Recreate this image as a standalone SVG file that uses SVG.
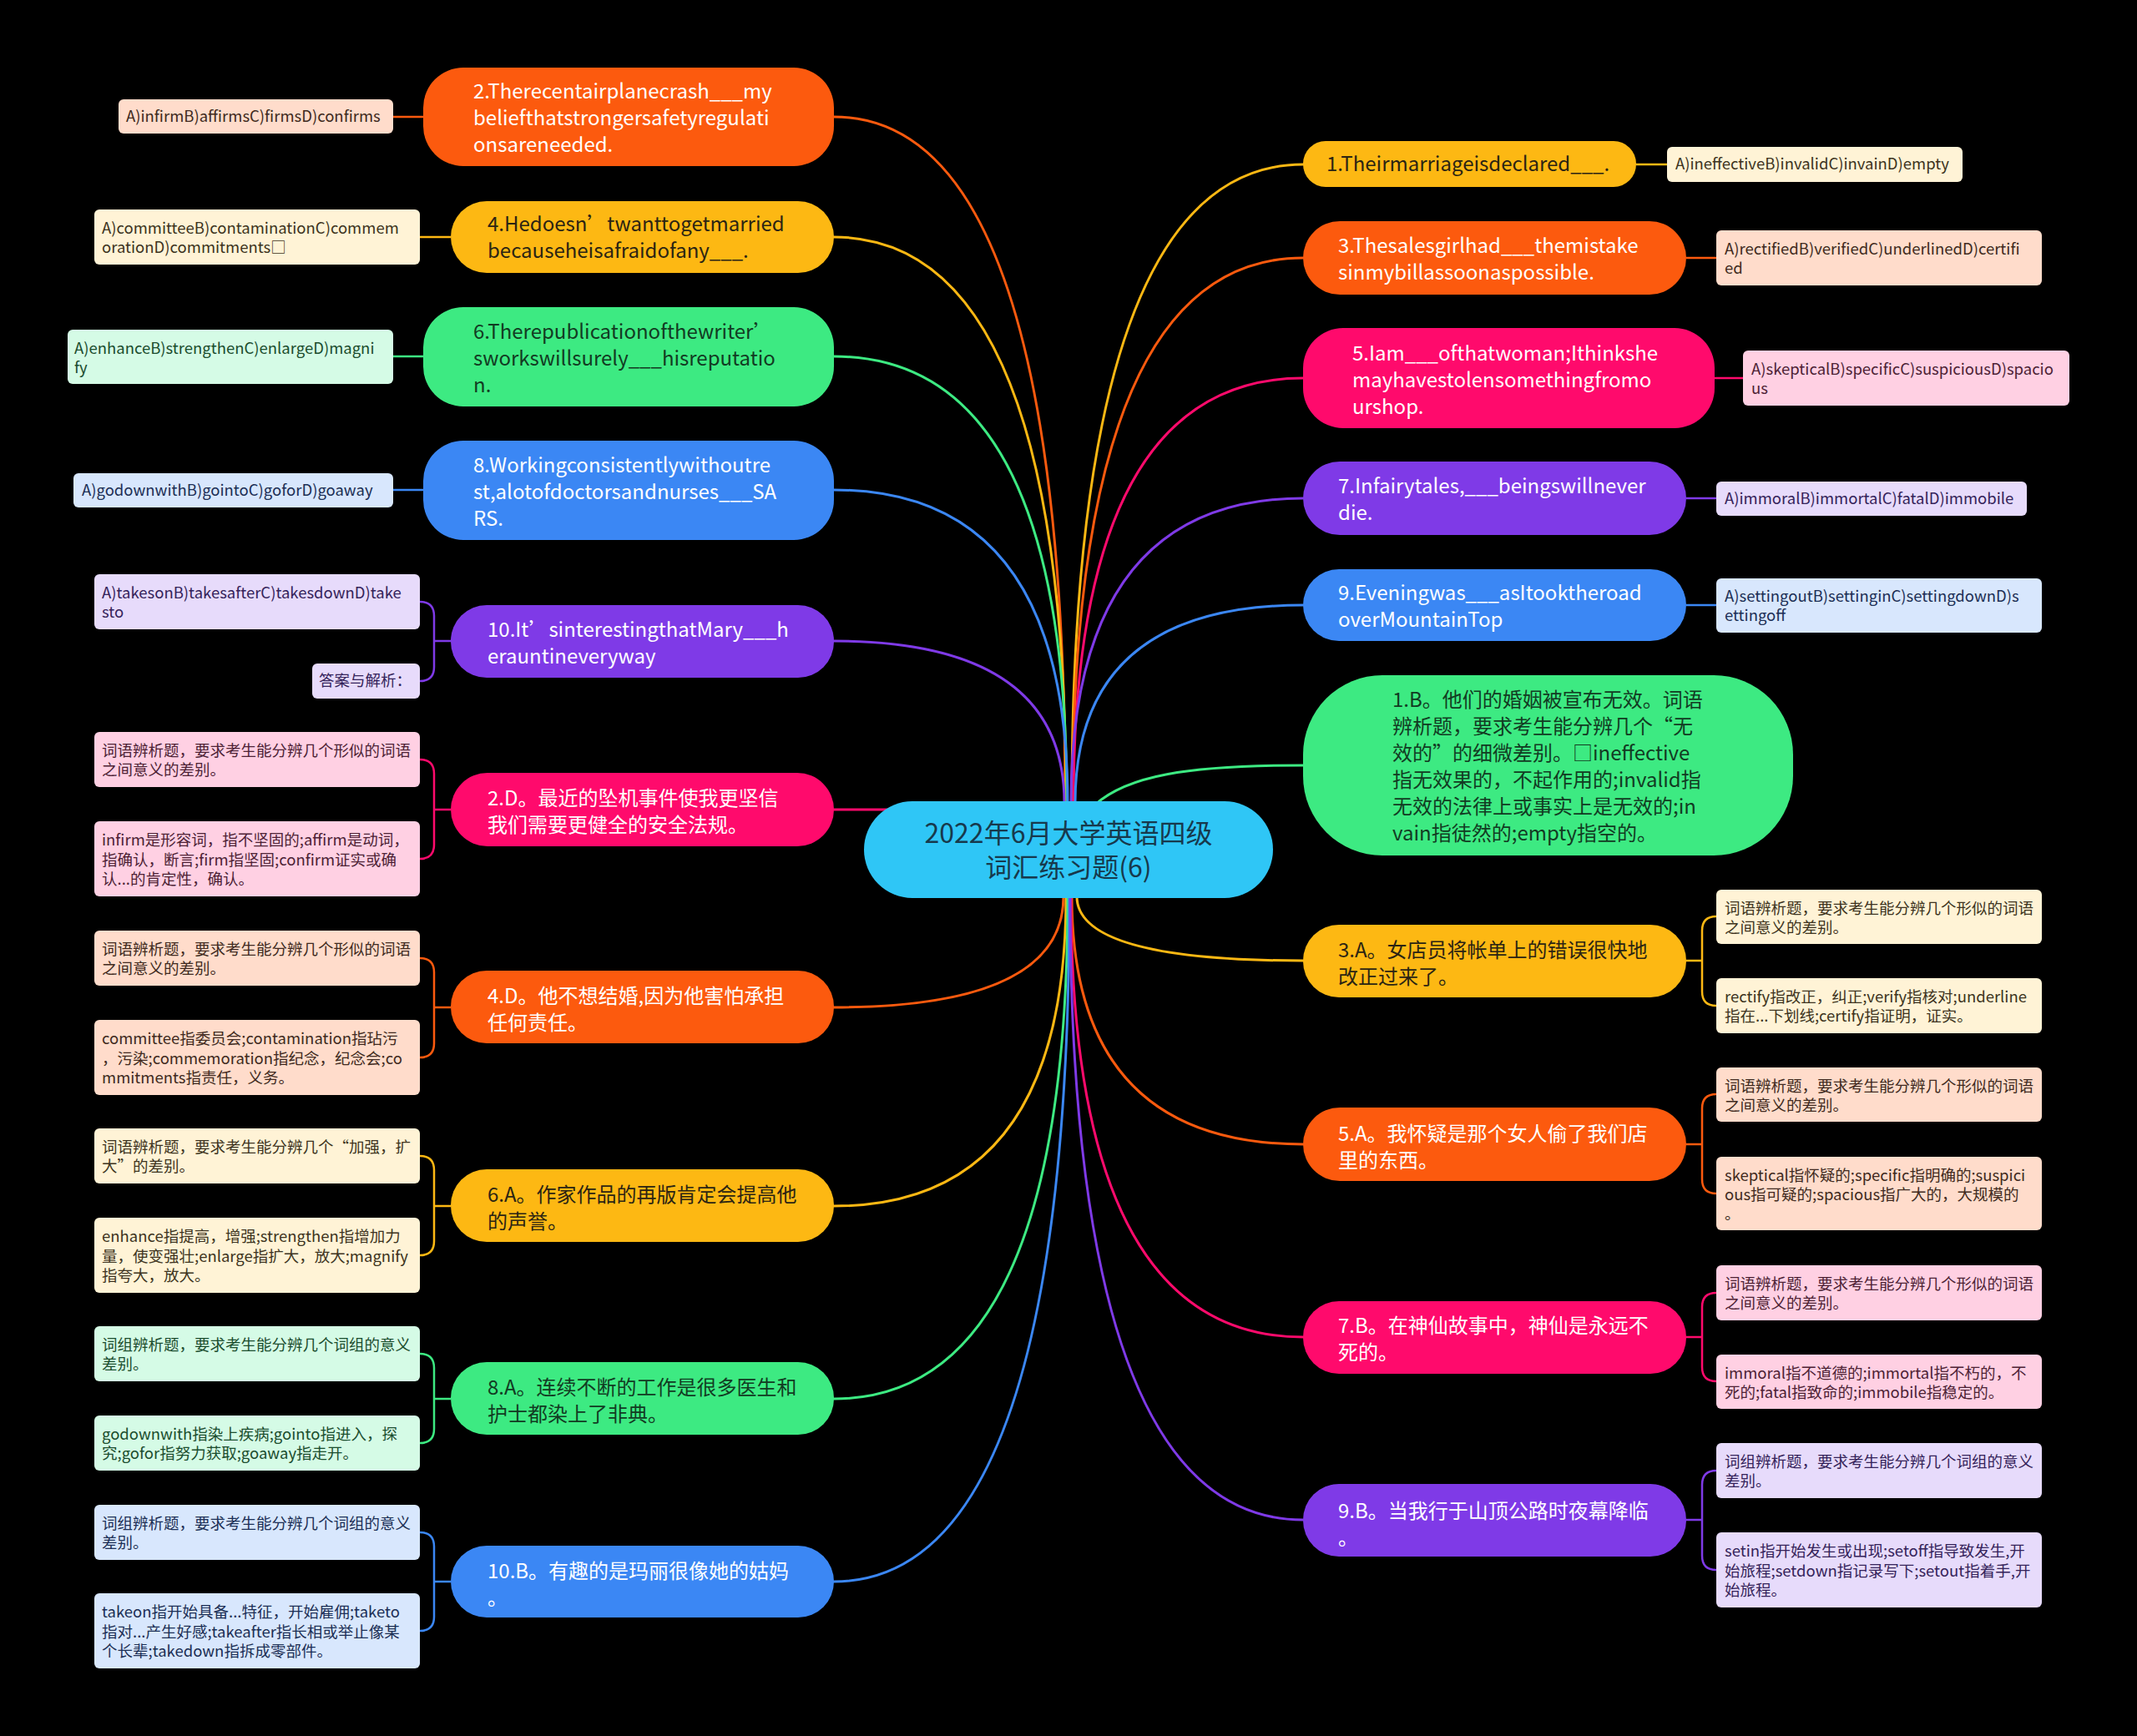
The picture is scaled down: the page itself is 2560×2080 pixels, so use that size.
<svg xmlns="http://www.w3.org/2000/svg" width="2560" height="2080" viewBox="0 0 2560 2080">
<style>
text{font-family:"Noto Sans CJK SC","Noto Sans",sans-serif;}
.m{font-size:24px;}
.l{font-size:18.5px;}
.c{font-size:32px;fill:#17394c;}
.w{fill:#ffffff;}
.dk-a{fill:#2b2413;}
.dk-g{fill:#123b22;}
.e{fill:none;stroke-width:3;stroke-linecap:round;}
.le{fill:none;stroke-width:2.5;}
.or{fill:#FC5A0E;} .am{fill:#FDB813;} .gr{fill:#3DEA82;} .bl{fill:#3B87F4;} .pu{fill:#7F3AE7;} .pk{fill:#FF0A6C;}
.lor{fill:#FFDCCB;} .lam{fill:#FFF3D6;} .lgr{fill:#D5FBE6;} .lbl{fill:#D8E7FD;} .lpu{fill:#E7DBFB;} .lpk{fill:#FFD0E3;}
.tor{fill:#402a20;} .tam{fill:#3d3320;} .tgr{fill:#1b4d2e;} .tbl{fill:#1c2f55;} .tpu{fill:#35235a;} .tpk{fill:#4d2235;}
.sor{stroke:#FC5A0E;} .sam{stroke:#FDB813;} .sgr{stroke:#3DEA82;} .sbl{stroke:#3B87F4;} .spu{stroke:#7F3AE7;} .spk{stroke:#FF0A6C;}
</style>
<rect x="0" y="0" width="2560" height="2080" fill="#000000"/>
<g id="connectors">
<path class="e sor" d="M999 140 Q1276 140 1276 962"/>
<path class="e sam" d="M999 284 Q1277 284 1277 962"/>
<path class="e sgr" d="M999 427 Q1278 427 1278 962"/>
<path class="e sbl" d="M999 587 Q1279 587 1279 962"/>
<path class="e spu" d="M999 768 Q1275 768 1275 962"/>
<path class="e spk" d="M999 970 L1070 970"/>
<path class="e sam" d="M1561 197 Q1284 197 1284 962"/>
<path class="e sor" d="M1561 309 Q1285 309 1285 962"/>
<path class="e spk" d="M1561 453 Q1286 453 1286 962"/>
<path class="e spu" d="M1561 597 Q1283 597 1283 962"/>
<path class="e sbl" d="M1561 725 Q1288 725 1288 962"/>
<path class="e sgr" d="M1561 917 C1420 917 1350 930 1312 964"/>
<path class="e sor" d="M999 1207 Q1274 1207 1274 1074"/>
<path class="e sam" d="M999 1445 Q1277 1445 1277 1074"/>
<path class="e sgr" d="M999 1676 Q1279 1676 1279 1074"/>
<path class="e sbl" d="M999 1895 Q1281 1895 1281 1074"/>
<path class="e sam" d="M1561 1151 Q1290 1151 1290 1074"/>
<path class="e sor" d="M1561 1371 Q1284 1371 1284 1074"/>
<path class="e spk" d="M1561 1602 Q1283 1602 1283 1074"/>
<path class="e spu" d="M1561 1821 Q1282 1821 1282 1074"/>
<path class="le sor" d="M471 140 L507 140"/>
<path class="le sam" d="M503 284 L540 284"/>
<path class="le sgr" d="M471 427 L507 427"/>
<path class="le sbl" d="M471 587 L507 587"/>
<path class="le spu" d="M540 768 L520 768 M503 721 Q520 721 520 738 L520 799 Q520 816 503 816"/>
<path class="le spk" d="M540 970 L520 970 M503 910 Q520 910 520 927 L520 1012 Q520 1029 503 1029"/>
<path class="le sor" d="M540 1207 L520 1207 M503 1148 Q520 1148 520 1165 L520 1250 Q520 1267 503 1267"/>
<path class="le sam" d="M540 1445 L520 1445 M503 1385 Q520 1385 520 1402 L520 1487 Q520 1504 503 1504"/>
<path class="le sgr" d="M540 1676 L520 1676 M503 1622 Q520 1622 520 1639 L520 1712 Q520 1729 503 1729"/>
<path class="le sbl" d="M540 1895 L520 1895 M503 1836 Q520 1836 520 1853 L520 1937 Q520 1954 503 1954"/>
<path class="le sam" d="M1960 197 L1997 197"/>
<path class="le sor" d="M2020 309 L2056 309"/>
<path class="le spk" d="M2054 453 L2088 453"/>
<path class="le spu" d="M2020 597 L2056 597"/>
<path class="le sbl" d="M2020 725 L2056 725"/>
<path class="le sam" d="M2020 1151 L2039 1151 M2056 1098 Q2039 1098 2039 1115 L2039 1188 Q2039 1205 2056 1205"/>
<path class="le sor" d="M2020 1371 L2039 1371 M2056 1311 Q2039 1311 2039 1328 L2039 1413 Q2039 1430 2056 1430"/>
<path class="le spk" d="M2020 1602 L2039 1602 M2056 1549 Q2039 1549 2039 1566 L2039 1638 Q2039 1655 2056 1655"/>
<path class="le spu" d="M2020 1821 L2039 1821 M2056 1762 Q2039 1762 2039 1779 L2039 1864 Q2039 1881 2056 1881"/>
</g>
<g id="center">
<rect x="1035" y="960" width="490" height="116" rx="58" fill="#2FC6F6"/>
<text class="c" x="1280" y="1010" text-anchor="middle">2022年6月大学英语四级</text>
<text class="c" x="1280" y="1051" text-anchor="middle">词汇练习题(6)</text>
</g>
<g id="q2"><rect class="or" x="507" y="81" width="492" height="118" rx="48"/>
<text class="m w" x="567" y="118">2.Therecentairplanecrash___my</text>
<text class="m w" x="567" y="150">beliefthatstrongersafetyregulati</text>
<text class="m w" x="567" y="182">onsareneeded.</text></g>
<g id="q4"><rect class="am" x="540" y="241" width="459" height="86" rx="43"/>
<text class="m dk-a" x="584" y="277">4.Hedoesn’twanttogetmarried</text>
<text class="m dk-a" x="584" y="309">becauseheisafraidofany___.</text></g>
<g id="q6"><rect class="gr" x="507" y="368" width="492" height="119" rx="48"/>
<text class="m dk-g" x="567" y="406">6.Therepublicationofthewriter’</text>
<text class="m dk-g" x="567" y="438">sworkswillsurely___hisreputatio</text>
<text class="m dk-g" x="567" y="470">n.</text></g>
<g id="q8"><rect class="bl" x="507" y="528" width="492" height="119" rx="48"/>
<text class="m w" x="567" y="566">8.Workingconsistentlywithoutre</text>
<text class="m w" x="567" y="598">st,alotofdoctorsandnurses___SA</text>
<text class="m w" x="567" y="630">RS.</text></g>
<g id="q10"><rect class="pu" x="540" y="725" width="459" height="87" rx="43"/>
<text class="m w" x="584" y="763">10.It’sinterestingthatMary___h</text>
<text class="m w" x="584" y="795">erauntineveryway</text></g>
<g id="a2"><rect class="pk" x="540" y="926" width="459" height="88" rx="44"/>
<text class="m w" x="584" y="965">2.D。最近的坠机事件使我更坚信</text>
<text class="m w" x="584" y="997">我们需要更健全的安全法规。</text></g>
<g id="a4"><rect class="or" x="540" y="1163" width="459" height="87" rx="43"/>
<text class="m w" x="584" y="1202">4.D。他不想结婚,因为他害怕承担</text>
<text class="m w" x="584" y="1234">任何责任。</text></g>
<g id="a6"><rect class="am" x="540" y="1401" width="459" height="87" rx="43"/>
<text class="m dk-a" x="584" y="1440">6.A。作家作品的再版肯定会提高他</text>
<text class="m dk-a" x="584" y="1472">的声誉。</text></g>
<g id="a8"><rect class="gr" x="540" y="1632" width="459" height="87" rx="43"/>
<text class="m dk-g" x="584" y="1671">8.A。连续不断的工作是很多医生和</text>
<text class="m dk-g" x="584" y="1703">护士都染上了非典。</text></g>
<g id="a10"><rect class="bl" x="540" y="1852" width="459" height="86" rx="43"/>
<text class="m w" x="584" y="1891">10.B。有趣的是玛丽很像她的姑妈</text>
<text class="m w" x="584" y="1923">。</text></g>
<g id="q1"><rect class="am" x="1561" y="169" width="399" height="55" rx="27"/>
<text class="m dk-a" x="1589" y="205">1.Theirmarriageisdeclared___.</text></g>
<g id="q3"><rect class="or" x="1561" y="265" width="459" height="88" rx="44"/>
<text class="m w" x="1603" y="303">3.Thesalesgirlhad___themistake</text>
<text class="m w" x="1603" y="335">sinmybillassoonaspossible.</text></g>
<g id="q5"><rect class="pk" x="1561" y="393" width="493" height="120" rx="48"/>
<text class="m w" x="1620" y="432">5.Iam___ofthatwoman;Ithinkshe</text>
<text class="m w" x="1620" y="464">mayhavestolensomethingfromo</text>
<text class="m w" x="1620" y="496">urshop.</text></g>
<g id="q7"><rect class="pu" x="1561" y="553" width="459" height="88" rx="44"/>
<text class="m w" x="1603" y="591">7.Infairytales,___beingswillnever</text>
<text class="m w" x="1603" y="623">die.</text></g>
<g id="q9"><rect class="bl" x="1561" y="682" width="459" height="86" rx="43"/>
<text class="m w" x="1603" y="719">9.Eveningwas___asItooktheroad</text>
<text class="m w" x="1603" y="751">overMountainTop</text></g>
<g id="a1"><rect class="gr" x="1561" y="809" width="587" height="216" rx="95"/>
<text class="m dk-g" x="1668" y="847">1.B。他们的婚姻被宣布无效。词语</text>
<text class="m dk-g" x="1668" y="879">辨析题，要求考生能分辨几个“无</text>
<text class="m dk-g" x="1668" y="911">效的”的细微差别。□ineffective</text>
<text class="m dk-g" x="1668" y="943">指无效果的，不起作用的;invalid指</text>
<text class="m dk-g" x="1668" y="975">无效的法律上或事实上是无效的;in</text>
<text class="m dk-g" x="1668" y="1007">vain指徒然的;empty指空的。</text></g>
<g id="a3"><rect class="am" x="1561" y="1108" width="459" height="87" rx="43"/>
<text class="m dk-a" x="1603" y="1147">3.A。女店员将帐单上的错误很快地</text>
<text class="m dk-a" x="1603" y="1179">改正过来了。</text></g>
<g id="a5"><rect class="or" x="1561" y="1327" width="459" height="88" rx="44"/>
<text class="m w" x="1603" y="1367">5.A。我怀疑是那个女人偷了我们店</text>
<text class="m w" x="1603" y="1399">里的东西。</text></g>
<g id="a7"><rect class="pk" x="1561" y="1559" width="459" height="87" rx="43"/>
<text class="m w" x="1603" y="1597">7.B。在神仙故事中，神仙是永远不</text>
<text class="m w" x="1603" y="1629">死的。</text></g>
<g id="a9"><rect class="pu" x="1561" y="1778" width="459" height="87" rx="43"/>
<text class="m w" x="1603" y="1819">9.B。当我行于山顶公路时夜幕降临</text>
<text class="m w" x="1603" y="1851">。</text></g>
<g id="o2"><rect class="lor" x="142" y="119" width="329" height="41" rx="6"/>
<text class="l tor" x="151" y="146">A)infirmB)affirmsC)firmsD)confirms</text></g>
<g id="o4"><rect class="lam" x="113" y="251" width="390" height="66" rx="6"/>
<text class="l tam" x="122" y="280">A)committeeB)contaminationC)commem</text>
<text class="l tam" x="122" y="303">orationD)commitments□</text></g>
<g id="o6"><rect class="lgr" x="81" y="395" width="390" height="65" rx="6"/>
<text class="l tgr" x="89" y="424">A)enhanceB)strengthenC)enlargeD)magni</text>
<text class="l tgr" x="89" y="447">fy</text></g>
<g id="o8"><rect class="lbl" x="88" y="567" width="383" height="41" rx="6"/>
<text class="l tbl" x="98" y="594">A)godownwithB)gointoC)goforD)goaway</text></g>
<g id="o10"><rect class="lpu" x="113" y="688" width="390" height="66" rx="6"/>
<text class="l tpu" x="122" y="717">A)takesonB)takesafterC)takesdownD)take</text>
<text class="l tpu" x="122" y="740">sto</text></g>
<g id="o10b"><rect class="lpu" x="374" y="795" width="129" height="42" rx="6"/>
<text class="l tpu" x="382" y="822">答案与解析：</text></g>
<g id="e2a"><rect class="lpk" x="113" y="877" width="390" height="66" rx="6"/>
<text class="l tpk" x="122" y="906">词语辨析题，要求考生能分辨几个形似的词语</text>
<text class="l tpk" x="122" y="929">之间意义的差别。</text></g>
<g id="e2b"><rect class="lpk" x="113" y="984" width="390" height="90" rx="6"/>
<text class="l tpk" x="122" y="1013">infirm是形容词，指不坚固的;affirm是动词，</text>
<text class="l tpk" x="122" y="1037">指确认，断言;firm指坚固;confirm证实或确</text>
<text class="l tpk" x="122" y="1060">认...的肯定性，确认。</text></g>
<g id="e4a"><rect class="lor" x="113" y="1115" width="390" height="66" rx="6"/>
<text class="l tor" x="122" y="1144">词语辨析题，要求考生能分辨几个形似的词语</text>
<text class="l tor" x="122" y="1167">之间意义的差别。</text></g>
<g id="e4b"><rect class="lor" x="113" y="1222" width="390" height="90" rx="6"/>
<text class="l tor" x="122" y="1251">committee指委员会;contamination指玷污</text>
<text class="l tor" x="122" y="1275">，污染;commemoration指纪念，纪念会;co</text>
<text class="l tor" x="122" y="1298">mmitments指责任，义务。</text></g>
<g id="e6a"><rect class="lam" x="113" y="1352" width="390" height="66" rx="6"/>
<text class="l tam" x="122" y="1381">词语辨析题，要求考生能分辨几个“加强，扩</text>
<text class="l tam" x="122" y="1404">大”的差别。</text></g>
<g id="e6b"><rect class="lam" x="113" y="1459" width="390" height="90" rx="6"/>
<text class="l tam" x="122" y="1488">enhance指提高，增强;strengthen指增加力</text>
<text class="l tam" x="122" y="1512">量，使变强壮;enlarge指扩大，放大;magnify</text>
<text class="l tam" x="122" y="1535">指夸大，放大。</text></g>
<g id="e8a"><rect class="lgr" x="113" y="1589" width="390" height="66" rx="6"/>
<text class="l tgr" x="122" y="1618">词组辨析题，要求考生能分辨几个词组的意义</text>
<text class="l tgr" x="122" y="1641">差别。</text></g>
<g id="e8b"><rect class="lgr" x="113" y="1696" width="390" height="66" rx="6"/>
<text class="l tgr" x="122" y="1725">godownwith指染上疾病;gointo指进入，探</text>
<text class="l tgr" x="122" y="1748">究;gofor指努力获取;goaway指走开。</text></g>
<g id="e10a"><rect class="lbl" x="113" y="1803" width="390" height="66" rx="6"/>
<text class="l tbl" x="122" y="1832">词组辨析题，要求考生能分辨几个词组的意义</text>
<text class="l tbl" x="122" y="1855">差别。</text></g>
<g id="e10b"><rect class="lbl" x="113" y="1909" width="390" height="90" rx="6"/>
<text class="l tbl" x="122" y="1938">takeon指开始具备...特征，开始雇佣;taketo</text>
<text class="l tbl" x="122" y="1962">指对...产生好感;takeafter指长相或举止像某</text>
<text class="l tbl" x="122" y="1985">个长辈;takedown指拆成零部件。</text></g>
<g id="o1"><rect class="lam" x="1997" y="176" width="354" height="42" rx="6"/>
<text class="l tam" x="2007" y="203">A)ineffectiveB)invalidC)invainD)empty</text></g>
<g id="o3"><rect class="lor" x="2056" y="276" width="390" height="66" rx="6"/>
<text class="l tor" x="2066" y="305">A)rectifiedB)verifiedC)underlinedD)certifi</text>
<text class="l tor" x="2066" y="328">ed</text></g>
<g id="o5"><rect class="lpk" x="2088" y="420" width="391" height="66" rx="6"/>
<text class="l tpk" x="2098" y="449">A)skepticalB)specificC)suspiciousD)spacio</text>
<text class="l tpk" x="2098" y="472">us</text></g>
<g id="o7"><rect class="lpu" x="2056" y="577" width="372" height="41" rx="6"/>
<text class="l tpu" x="2066" y="604">A)immoralB)immortalC)fatalD)immobile</text></g>
<g id="o9"><rect class="lbl" x="2056" y="693" width="390" height="65" rx="6"/>
<text class="l tbl" x="2066" y="721">A)settingoutB)settinginC)settingdownD)s</text>
<text class="l tbl" x="2066" y="744">ettingoff</text></g>
<g id="e3a"><rect class="lam" x="2056" y="1066" width="390" height="65" rx="6"/>
<text class="l tam" x="2066" y="1095">词语辨析题，要求考生能分辨几个形似的词语</text>
<text class="l tam" x="2066" y="1118">之间意义的差别。</text></g>
<g id="e3b"><rect class="lam" x="2056" y="1172" width="390" height="66" rx="6"/>
<text class="l tam" x="2066" y="1201">rectify指改正，纠正;verify指核对;underline</text>
<text class="l tam" x="2066" y="1224">指在...下划线;certify指证明，证实。</text></g>
<g id="e5a"><rect class="lor" x="2056" y="1279" width="390" height="65" rx="6"/>
<text class="l tor" x="2066" y="1308">词语辨析题，要求考生能分辨几个形似的词语</text>
<text class="l tor" x="2066" y="1331">之间意义的差别。</text></g>
<g id="e5b"><rect class="lor" x="2056" y="1386" width="390" height="88" rx="6"/>
<text class="l tor" x="2066" y="1415">skeptical指怀疑的;specific指明确的;suspici</text>
<text class="l tor" x="2066" y="1438">ous指可疑的;spacious指广大的，大规模的</text>
<text class="l tor" x="2066" y="1461">。</text></g>
<g id="e7a"><rect class="lpk" x="2056" y="1516" width="390" height="66" rx="6"/>
<text class="l tpk" x="2066" y="1545">词语辨析题，要求考生能分辨几个形似的词语</text>
<text class="l tpk" x="2066" y="1568">之间意义的差别。</text></g>
<g id="e7b"><rect class="lpk" x="2056" y="1623" width="390" height="65" rx="6"/>
<text class="l tpk" x="2066" y="1652">immoral指不道德的;immortal指不朽的，不</text>
<text class="l tpk" x="2066" y="1675">死的;fatal指致命的;immobile指稳定的。</text></g>
<g id="e9a"><rect class="lpu" x="2056" y="1729" width="390" height="66" rx="6"/>
<text class="l tpu" x="2066" y="1758">词组辨析题，要求考生能分辨几个词组的意义</text>
<text class="l tpu" x="2066" y="1781">差别。</text></g>
<g id="e9b"><rect class="lpu" x="2056" y="1836" width="390" height="90" rx="6"/>
<text class="l tpu" x="2066" y="1865">setin指开始发生或出现;setoff指导致发生,开</text>
<text class="l tpu" x="2066" y="1889">始旅程;setdown指记录写下;setout指着手,开</text>
<text class="l tpu" x="2066" y="1912">始旅程。</text></g>
</svg>
